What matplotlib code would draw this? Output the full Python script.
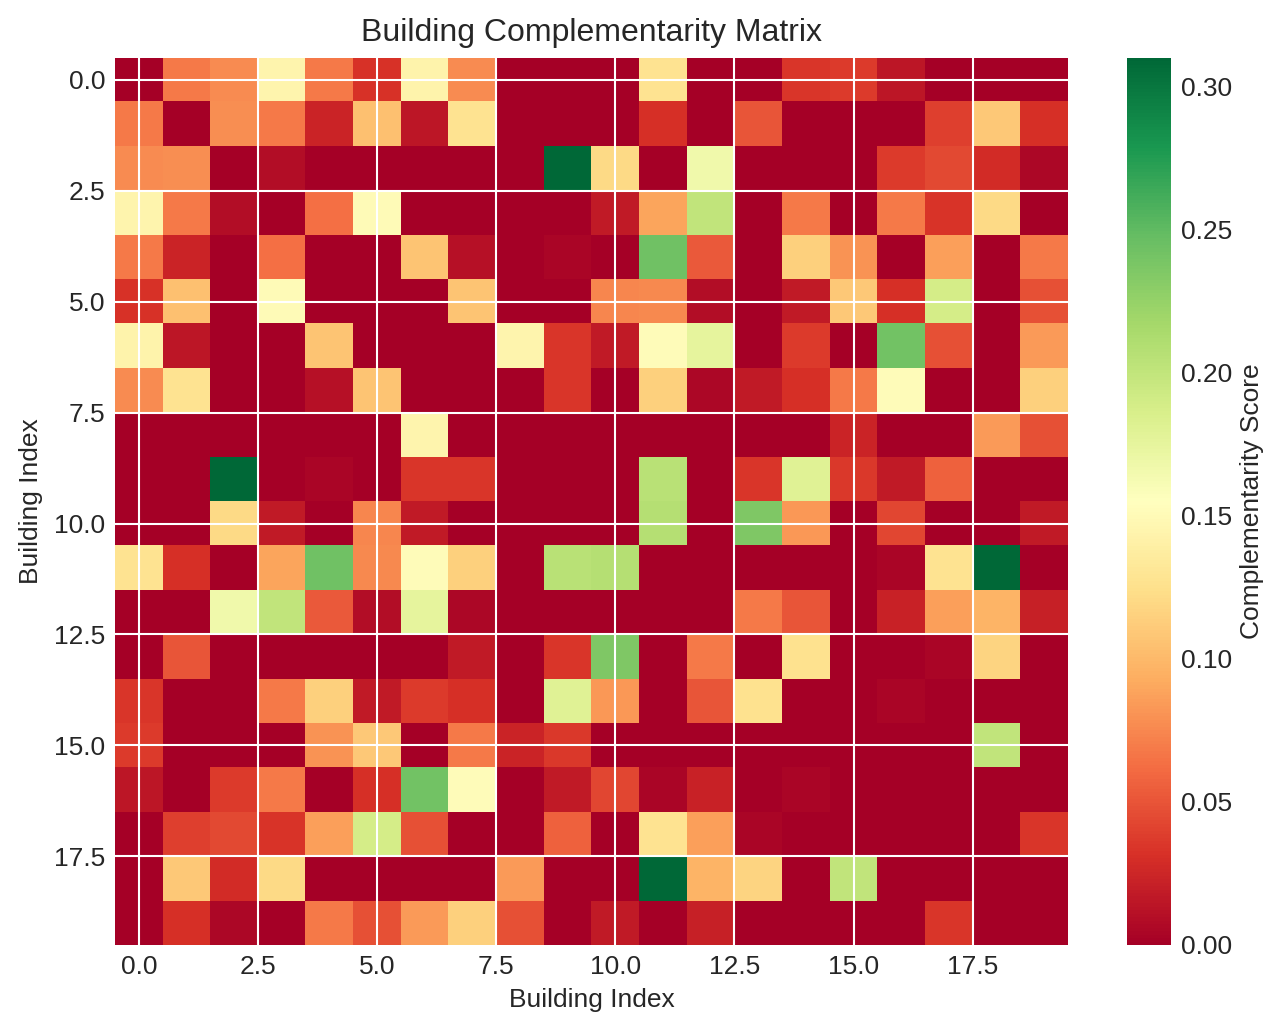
import numpy as np
import matplotlib
matplotlib.use("Agg")
import matplotlib.pyplot as plt

# Building indices
buildings = list(range(20))

# Upper-triangle complementarity scores: row i holds scores for columns i+1..19
upper_rows = [
    [.069, .077, .145, .069, .032, .143, .077, 0, 0, 0, .128, 0, 0, .035, .037, .015, 0, 0, 0],
    [.078, .069, .024, .105, .015, .128, 0, 0, 0, .031, 0, .050, 0, 0, 0, .039, .110, .031],
    [.009, 0, 0, 0, 0, 0, .310, .120, 0, .166, 0, 0, 0, .037, .044, .0285, .0056],
    [.063, .151, 0, 0, 0, 0, .018, .089, .200, 0, .069, 0, .069, .033, .120, 0],
    [0, .107, .012, 0, .004, 0, .243, .053, 0, .115, .080, 0, .086, 0, .069],
    [0, .107, 0, 0, .074, .076, .009, 0, .018, .109, .031, .188, 0, .048],
    [0, .145, .035, .018, .152, .175, 0, .037, 0, .241, .048, 0, .084],
    [0, .035, 0, .115, .0056, .018, .031, .069, .152, 0, 0, .115],
    [0, 0, 0, 0, 0, 0, .024, 0, 0, .084, .048],
    [0, .205, 0, .035, .180, .036, .018, .056, 0, 0],
    [.208, 0, .235, .083, 0, .043, 0, 0, .018],
    [0, 0, 0, 0, .004, .128, .310, 0],
    [.069, .050, 0, .022, .087, .097, .021],
    [.127, 0, 0, .004, .117, 0],
    [0, .004, 0, 0, 0],
    [0, 0, .200, 0],
    [0, 0, 0],
    [0, .035],
    [0],
]

n = len(buildings)
scores = np.zeros((n, n))
for i, row in enumerate(upper_rows):
    for k, v in enumerate(row):
        j = i + 1 + k
        scores[i, j] = v
        scores[j, i] = v

plt.rcParams['font.family'] = ['Liberation Sans', 'DejaVu Sans']
text_color = '0.15'
plt.rcParams['text.color'] = text_color
plt.rcParams['axes.labelcolor'] = text_color
plt.rcParams['xtick.color'] = text_color
plt.rcParams['ytick.color'] = text_color

W, H = 1286, 1032
fig = plt.figure(figsize=(W / 100, H / 100), dpi=100)
ax = fig.add_axes([115 / W, 1 - 945 / H, (1068 - 115) / W, (945 - 57.7) / H])
cax = fig.add_axes([1127 / W, 1 - 945 / H, (1171 - 1127) / W, (945 - 57.7) / H])

im = ax.imshow(scores, cmap='RdYlGn', vmin=0, vmax=0.31, aspect='auto',
               interpolation='nearest')
ax.grid(True, color='white', linewidth=1.5)
ax.set_axisbelow(False)
for s in ax.spines.values():
    s.set_visible(False)
ax.tick_params(length=0, pad=7, labelsize=19)
ax.set_title('Building Complementarity Matrix', fontsize=23, pad=12)
ax.set_xlabel('Building Index', fontsize=19, labelpad=7)
ax.set_ylabel('Building Index', fontsize=19, labelpad=8)

cb = fig.colorbar(im, cax=cax)
cb.outline.set_visible(False)
cax.tick_params(length=0, pad=7, labelsize=19)
cax.grid(False)
cb.set_label('Complementarity Score', fontsize=19, labelpad=6)

fig.savefig('out.png', dpi=100)
